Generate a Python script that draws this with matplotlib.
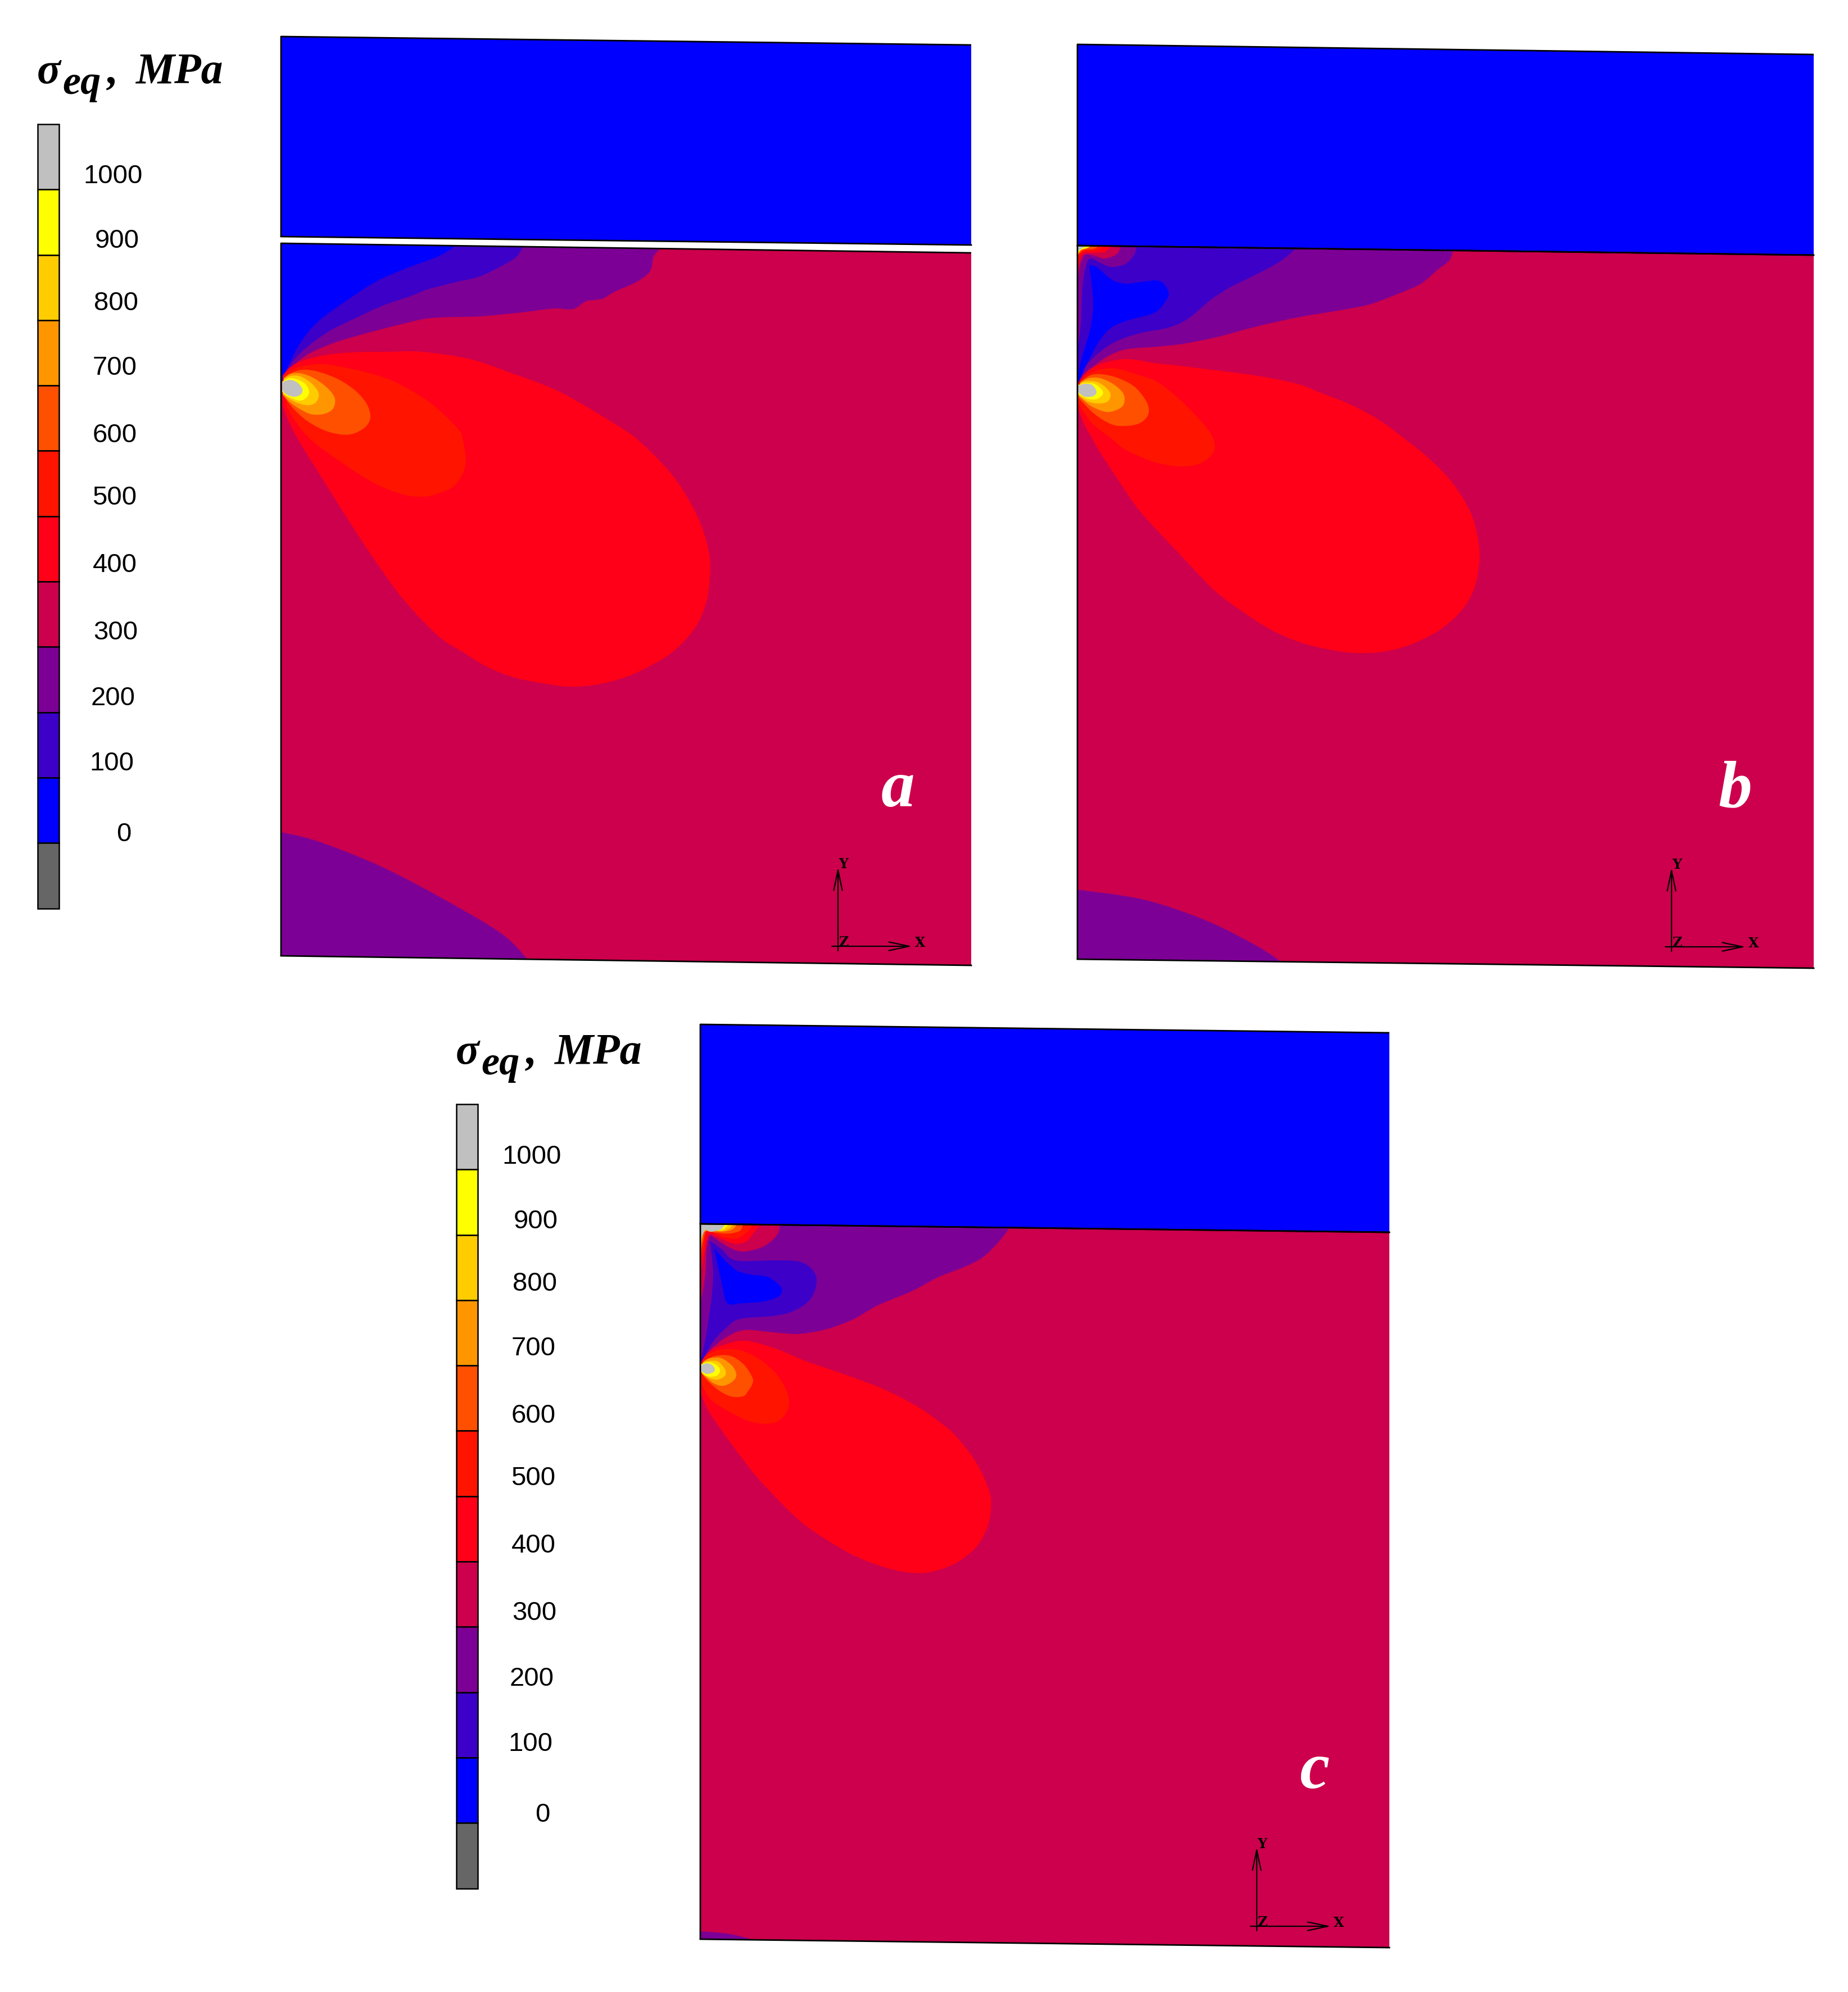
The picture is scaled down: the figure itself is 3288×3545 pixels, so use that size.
import matplotlib
matplotlib.use('Agg')
from matplotlib import pyplot as plt
from matplotlib.path import Path
from matplotlib.patches import PathPatch, Polygon

# legend classes, top to bottom
LEVEL_COLORS = ['#C0C0C0', '#FFFF00', '#FFCC00', '#FF9600', '#FF5000', '#FF1400',
                '#FF0018', '#CC004C', '#7D0096', '#3C00C8', '#0000FF', '#666666']
LEVEL_LABELS = ['1000', '900', '800', '700', '600', '500', '400', '300', '200', '100', '0']
LABEL_X_1 = [201, 208, 206, 204, 204, 204, 204, 206, 201, 199, 220]
LABEL_Y_1 = [314, 429, 540, 655, 775, 886, 1006, 1126, 1243, 1359, 1485]

A_BLOCK = [(500, 65), (1728, 80), (1728, 436), (500, 421)]
A_BODY = [(500, 433), (1728, 450), (1728, 1718), (500, 1701)]
A_PURPLE = [(1177, 440), (1163, 457), (1157, 482), (1134, 501), (1094, 519), (1071, 532), (1043, 536),
            (1020, 550), (985, 549), (928, 556), (853, 563), (767, 566), (710, 578), (652, 593),
            (595, 610), (549, 630), (520, 653), (503, 676)]
A_INDIGO = [(931, 438), (919, 457), (893, 473), (853, 492), (807, 503), (761, 515), (733, 526),
            (681, 544), (635, 565), (583, 591), (537, 626), (509, 660), (503, 676)]
A_BLUE = [(810, 438), (778, 457), (721, 478), (669, 501), (624, 530), (566, 572), (532, 614),
          (509, 660), (502, 679)]
A_LOBE_400 = [(503, 668), (515, 655), (535, 643), (578, 632), (628, 627), (695, 626), (750, 626), (836, 639),
              (910, 664), (997, 698), (1103, 760), (1143, 790), (1190, 838), (1220, 880), (1247, 933), (1262, 987),
              (1263, 1027), (1257, 1070), (1237, 1117), (1197, 1160), (1153, 1187), (1113, 1205), (1063, 1218),
              (1013, 1222), (960, 1215), (913, 1205), (867, 1187), (823, 1160), (780, 1132), (718, 1067), (662, 990),
              (624, 932), (578, 859), (535, 790), (515, 753), (503, 723)]
A_LOBE_500 = [(503, 670), (518, 658), (548, 650), (578, 648), (628, 657), (668, 667), (710, 683), (767, 718),
              (812, 760), (823, 780), (828, 827), (810, 863), (780, 878), (750, 884), (710, 878), (652, 852),
              (562, 790), (528, 753), (510, 723)]
A_LOBE_600 = [(505, 672), (522, 662), (542, 658), (568, 662), (602, 675), (632, 695), (652, 718), (659, 742),
              (650, 760), (628, 772), (605, 773), (575, 765), (545, 748), (522, 727), (503, 703)]
A_LOBE_700 = [(505, 673), (518, 665), (538, 665), (562, 675), (585, 693), (596, 710), (592, 728), (575, 737),
              (553, 737), (532, 727), (515, 715), (503, 702)]
A_LOBE_800 = [(505, 675), (517, 669), (535, 670), (555, 683), (567, 700), (563, 715), (550, 721), (532, 718),
              (515, 710), (503, 700)]
A_LOBE_900 = [(502, 679), (515, 673), (528, 675), (543, 683), (550, 697), (545, 708), (533, 713), (518, 708),
              (508, 703), (502, 697)]
A_LOBE_1000 = [(502, 680), (515, 676), (528, 680), (538, 692), (535, 702), (523, 706), (510, 702), (502, 695)]
A_FOOT = [(500, 1481), (565, 1497), (678, 1542), (791, 1601), (893, 1662), (941, 1710)]

B_BLOCK = [(1917, 79), (3227, 97), (3227, 454), (1917, 437)]
B_BODY = [(1917, 437), (3227, 454), (3227, 1723), (1917, 1707)]
B_PURPLE = [(2586, 442), (2579, 463), (2558, 480), (2528, 505), (2487, 523), (2436, 542), (2385, 552),
            (2308, 565), (2232, 582), (2165, 600), (2104, 612), (2058, 617), (2002, 622), (1966, 637),
            (1941, 657), (1918, 683)]
B_INDIGO = [(2308, 440), (2278, 465), (2232, 490), (2191, 510), (2155, 533), (2114, 567), (2079, 583),
            (2028, 593), (1987, 607), (1956, 627), (1931, 653), (1918, 682)]
B_BLUE = [(1938, 473), (1951, 475), (1977, 497), (2002, 505), (2028, 502), (2063, 500), (2079, 520), (2073, 537),
          (2053, 557), (2007, 570), (1977, 583), (1956, 607), (1936, 643), (1918, 680), (1923, 643),
          (1938, 593), (1945, 550), (1943, 510)]
B_HOT_200 = [(2022, 438), (2018, 453), (2002, 470), (1977, 475), (1956, 467), (1941, 460), (1933, 470),
             (1926, 510), (1923, 577), (1918, 617)]
B_HOT_300 = [(1994, 438), (1987, 452), (1966, 460), (1946, 455), (1931, 453), (1923, 467), (1918, 493)]
B_HOT_400 = [(1977, 438), (1966, 448), (1946, 450), (1931, 450), (1923, 457), (1918, 477)]
B_HOT_500 = [(1964, 438), (1951, 446), (1931, 447), (1921, 453), (1918, 467)]
B_HOT_600 = [(1954, 438), (1946, 443), (1928, 445), (1919, 453)]
B_HOT_900 = [(1941, 438), (1933, 442), (1923, 445), (1918, 452)]
B_HOT_1000 = [(1933, 438), (1925, 442), (1918, 447)]
B_LOBE_400 = [(1918, 682), (1933, 662), (1957, 648), (2003, 639), (2060, 647), (2090, 650), (2155, 658), (2232, 668),
              (2308, 683), (2352, 700), (2403, 720), (2453, 747), (2507, 787), (2547, 820), (2587, 863), (2617, 913),
              (2630, 960), (2632, 1000), (2623, 1047), (2600, 1087), (2560, 1122), (2510, 1147), (2460, 1160),
              (2410, 1162), (2360, 1155), (2310, 1142), (2260, 1120), (2210, 1088), (2160, 1050), (2095, 982),
              (2030, 912), (1992, 858), (1956, 803), (1943, 780), (1930, 757), (1918, 727)]
B_LOBE_500 = [(1920, 680), (1937, 665), (1960, 657), (1987, 656), (2027, 668), (2060, 680), (2100, 712), (2130, 742),
              (2152, 768), (2161, 790), (2157, 808), (2135, 825), (2099, 830), (2053, 822), (2002, 800), (1977, 780),
              (1943, 753), (1918, 717)]
B_LOBE_600 = [(1922, 680), (1940, 668), (1960, 666), (1987, 672), (2017, 687), (2037, 710), (2044, 728), (2040, 743),
              (2023, 755), (1990, 758), (1967, 750), (1943, 733), (1918, 707)]
B_LOBE_700 = [(1923, 680), (1937, 673), (1957, 673), (1980, 683), (1997, 698), (2001, 712), (1995, 725), (1975, 733),
              (1957, 730), (1937, 720), (1920, 705)]
B_LOBE_800 = [(1922, 682), (1933, 678), (1953, 680), (1970, 692), (1976, 703), (1970, 715), (1953, 718), (1937, 715),
              (1923, 707), (1918, 702)]
B_LOBE_900 = [(1918, 685), (1930, 682), (1947, 683), (1960, 693), (1962, 702), (1952, 710), (1937, 710), (1925, 705),
              (1918, 700)]
B_LOBE_1000 = [(1918, 686), (1930, 683), (1943, 685), (1951, 697), (1945, 705), (1930, 706), (1918, 698)]
B_FOOT = [(1915, 1583), (2035, 1601), (2148, 1639), (2239, 1685), (2284, 1715)]

C_BLOCK = [(1246, 1823), (2472, 1838), (2472, 2193), (1246, 2178)]
C_BODY = [(1246, 2178), (2472, 2193), (2472, 3466), (1246, 3451)]
C_PURPLE = [(1796, 2185), (1777, 2210), (1748, 2238), (1715, 2255), (1669, 2273), (1624, 2297), (1562, 2323),
            (1520, 2347), (1479, 2363), (1450, 2370), (1417, 2374), (1375, 2371), (1325, 2367), (1292, 2380),
            (1263, 2403), (1247, 2425)]
C_INDIGO = [(1263, 2208), (1284, 2223), (1309, 2243), (1375, 2243), (1421, 2245), (1446, 2260), (1453, 2283),
            (1441, 2313), (1412, 2333), (1375, 2342), (1317, 2347), (1292, 2363), (1267, 2390), (1247, 2425),
            (1255, 2383), (1265, 2317), (1269, 2267), (1265, 2223)]
C_BLUE = [(1271, 2222), (1284, 2237), (1309, 2260), (1334, 2268), (1367, 2273), (1390, 2292), (1385, 2307),
          (1359, 2316), (1321, 2319), (1294, 2319), (1284, 2283)]
C_HOT_300 = [(1388, 2179), (1383, 2197), (1367, 2213), (1346, 2223), (1317, 2227), (1292, 2217), (1271, 2203),
             (1263, 2200), (1257, 2223), (1255, 2267), (1247, 2317)]
C_HOT_400 = [(1354, 2179), (1342, 2193), (1327, 2210), (1305, 2213), (1284, 2205), (1267, 2197), (1259, 2200),
             (1253, 2233), (1247, 2263)]
C_HOT_500 = [(1340, 2179), (1330, 2192), (1313, 2203), (1292, 2203), (1267, 2193), (1257, 2193), (1251, 2223),
             (1247, 2243)]
C_HOT_600 = [(1322, 2179), (1317, 2190), (1300, 2195), (1284, 2195), (1261, 2192), (1255, 2192), (1249, 2217),
             (1247, 2230)]
C_HOT_700 = [(1311, 2179), (1303, 2188), (1284, 2192), (1255, 2191), (1249, 2207), (1247, 2223)]
C_HOT_800 = [(1305, 2179), (1296, 2187), (1282, 2191), (1255, 2189), (1247, 2207)]
C_HOT_900 = [(1296, 2179), (1288, 2187), (1272, 2190), (1255, 2188), (1247, 2205)]
C_HOT_1000 = [(1290, 2179), (1282, 2188), (1265, 2192), (1255, 2189), (1249, 2200), (1247, 2203)]
C_LOBE_400 = [(1248, 2423), (1260, 2407), (1283, 2395), (1325, 2386), (1380, 2400), (1433, 2422), (1500, 2445),
              (1567, 2470), (1627, 2500), (1667, 2527), (1700, 2555), (1737, 2603), (1760, 2653), (1763, 2683),
              (1757, 2717), (1737, 2753), (1700, 2782), (1653, 2798), (1613, 2798), (1567, 2787), (1517, 2767),
              (1467, 2738), (1427, 2710), (1393, 2678), (1357, 2640), (1337, 2617), (1300, 2568), (1280, 2540),
              (1260, 2510), (1247, 2480)]
C_LOBE_500 = [(1250, 2420), (1260, 2410), (1283, 2402), (1317, 2403), (1353, 2420), (1383, 2447), (1400, 2477),
              (1404, 2497), (1397, 2517), (1377, 2532), (1343, 2532), (1312, 2520), (1267, 2493), (1248, 2463)]
C_LOBE_600 = [(1252, 2422), (1273, 2413), (1300, 2413), (1323, 2428), (1338, 2450), (1339, 2462), (1330, 2477),
              (1322, 2485), (1300, 2485), (1277, 2473), (1257, 2455), (1247, 2442)]
C_LOBE_700 = [(1252, 2423), (1263, 2417), (1283, 2417), (1302, 2430), (1310, 2445), (1305, 2457), (1288, 2466),
              (1270, 2462), (1252, 2447), (1247, 2440)]
C_LOBE_800 = [(1250, 2425), (1260, 2422), (1277, 2423), (1290, 2437), (1290, 2448), (1278, 2455), (1263, 2453),
              (1250, 2445)]
C_LOBE_900 = [(1247, 2428), (1260, 2424), (1273, 2428), (1281, 2437), (1277, 2447), (1265, 2450), (1253, 2447),
              (1247, 2440)]
C_LOBE_1000 = [(1247, 2430), (1258, 2426), (1268, 2430), (1272, 2438), (1267, 2443), (1257, 2445), (1247, 2440)]
C_FOOT = [(1246, 3437), (1300, 3442), (1350, 3455)]

fig = plt.figure(figsize=(32.88, 35.45), dpi=100)
ax = fig.add_axes([0, 0, 1, 1])
ax.set_xlim(0, 3288)
ax.set_ylim(3545, 0)
ax.axis('off')

SERIF = 'Liberation Serif'
SANS = 'Liberation Sans'


def smooth_path(pts, tail=()):
    # curve through the read points, closed with straight lines over tail
    n = len(pts)
    verts = [pts[0]]
    codes = [Path.MOVETO]
    for i in range(n - 1):
        p0, p1, p2, p3 = pts[max(i - 1, 0)], pts[i], pts[i + 1], pts[min(i + 2, n - 1)]
        c1 = (p1[0] + (p2[0] - p0[0]) / 6, p1[1] + (p2[1] - p0[1]) / 6)
        c2 = (p2[0] - (p3[0] - p1[0]) / 6, p2[1] - (p3[1] - p1[1]) / 6)
        verts += [c1, c2, p2]
        codes += [Path.CURVE4] * 3
    for p in tail:
        verts.append(p)
        codes.append(Path.LINETO)
    verts.append(pts[0])
    codes.append(Path.CLOSEPOLY)
    return Path(verts, codes)


def band(pts, color, clip, tail=()):
    p = PathPatch(smooth_path(pts, tail), facecolor=color, edgecolor='none', lw=0)
    ax.add_patch(p)
    p.set_clip_path(clip)


def panel(block, body, bands):
    ax.add_patch(Polygon(block, closed=True, facecolor='#0000FF', edgecolor='none'))
    clip = Polygon(body, closed=True, facecolor='#CC004C', edgecolor='none')
    ax.add_patch(clip)
    for pts, color, tail in bands:
        band(pts, color, clip, tail)
    for shape in (block, body):
        ax.plot([shape[3][0], shape[0][0], shape[1][0]], [shape[3][1], shape[0][1], shape[1][1]],
                color='k', lw=2.0, solid_capstyle='butt')
        ax.plot([shape[3][0], shape[2][0]], [shape[3][1], shape[2][1]], color='k', lw=2.0)


def legend(x0, y0, dx, dy):
    seg = 116.3
    for i, col in enumerate(LEVEL_COLORS):
        ax.bar(x0, seg, width=38, bottom=y0 + i * seg, align='edge', color=col, edgecolor='k', linewidth=1.8)
    for lab, x, y in zip(LEVEL_LABELS, LABEL_X_1, LABEL_Y_1):
        ax.text(x + dx, y + dy, lab, ha='center', va='center', fontsize=34, family=SANS, color='k')
    kw = dict(family=SERIF, weight='bold', style='italic', color='k', va='baseline', ha='left')
    ax.text(66 + dx, 148 + dy, '\u03c3', fontsize=56, **kw)
    ax.text(111 + dx, 167 + dy, 'eq', fontsize=52, **kw)
    ax.text(191 + dx, 148 + dy, ',', fontsize=56, **kw)
    ax.text(241 + dx, 148 + dy, 'MPa', fontsize=56, **kw)


def triad(x, y):
    style = '->,head_length=2.6,head_width=0.55'
    ax.annotate('', xy=(x, y - 141), xytext=(x, y + 8),
                arrowprops=dict(arrowstyle=style, color='k', lw=1.6, shrinkA=0, shrinkB=0))
    ax.annotate('', xy=(x + 132, y), xytext=(x - 11, y),
                arrowprops=dict(arrowstyle=style, color='k', lw=1.6, shrinkA=0, shrinkB=0))
    kw = dict(family='DejaVu Serif', weight='bold', fontsize=17, color='k', ha='center', va='center')
    ax.text(x + 146, y - 6, 'X', **kw)
    ax.text(x + 10, y - 146, 'Y', **kw)
    ax.text(x + 10, y - 7, 'Z', **kw)


legend(67, 221, 0, 0)
legend(812, 1965, 745, 1745)

panel(A_BLOCK, A_BODY, [
    (A_PURPLE, LEVEL_COLORS[8], [(495, 676), (495, 430)]),
    (A_INDIGO, LEVEL_COLORS[9], [(495, 676), (495, 430)]),
    (A_BLUE, LEVEL_COLORS[10], [(495, 679), (495, 430)]),
    (A_FOOT, LEVEL_COLORS[8], [(495, 1710), (495, 1481)]),
    (A_LOBE_400, LEVEL_COLORS[6], ()), (A_LOBE_500, LEVEL_COLORS[5], ()), (A_LOBE_600, LEVEL_COLORS[4], ()),
    (A_LOBE_700, LEVEL_COLORS[3], ()), (A_LOBE_800, LEVEL_COLORS[2], ()), (A_LOBE_900, LEVEL_COLORS[1], ()),
    (A_LOBE_1000, LEVEL_COLORS[0], ()),
])
panel(B_BLOCK, B_BODY, [
    (B_PURPLE, LEVEL_COLORS[8], [(1910, 683), (1910, 430)]),
    (B_INDIGO, LEVEL_COLORS[9], [(1910, 682), (1910, 430)]),
    (B_BLUE, LEVEL_COLORS[10], ()),
    (B_HOT_200, LEVEL_COLORS[8], [(1910, 617), (1910, 430)]),
    (B_HOT_300, LEVEL_COLORS[7], [(1910, 493), (1910, 430)]),
    (B_HOT_400, LEVEL_COLORS[6], [(1910, 477), (1910, 430)]),
    (B_HOT_500, LEVEL_COLORS[5], [(1910, 467), (1910, 430)]),
    (B_HOT_600, LEVEL_COLORS[4], [(1910, 453), (1910, 430)]),
    (B_HOT_900, LEVEL_COLORS[1], [(1910, 452), (1910, 430)]),
    (B_HOT_1000, LEVEL_COLORS[0], [(1910, 447), (1910, 430)]),
    (B_FOOT, LEVEL_COLORS[8], [(1910, 1715), (1910, 1583)]),
    (B_LOBE_400, LEVEL_COLORS[6], ()), (B_LOBE_500, LEVEL_COLORS[5], ()), (B_LOBE_600, LEVEL_COLORS[4], ()),
    (B_LOBE_700, LEVEL_COLORS[3], ()), (B_LOBE_800, LEVEL_COLORS[2], ()), (B_LOBE_900, LEVEL_COLORS[1], ()),
    (B_LOBE_1000, LEVEL_COLORS[0], ()),
])
panel(C_BLOCK, C_BODY, [
    (C_PURPLE, LEVEL_COLORS[8], [(1240, 2425), (1240, 2170)]),
    (C_HOT_300, LEVEL_COLORS[7], [(1240, 2317), (1240, 2170)]),
    (C_INDIGO, LEVEL_COLORS[9], ()),
    (C_BLUE, LEVEL_COLORS[10], ()),
    (C_HOT_400, LEVEL_COLORS[6], [(1240, 2263), (1240, 2170)]),
    (C_HOT_500, LEVEL_COLORS[5], [(1240, 2243), (1240, 2170)]),
    (C_HOT_600, LEVEL_COLORS[4], [(1240, 2230), (1240, 2170)]),
    (C_HOT_700, LEVEL_COLORS[3], [(1240, 2223), (1240, 2170)]),
    (C_HOT_800, LEVEL_COLORS[2], [(1240, 2207), (1240, 2170)]),
    (C_HOT_900, LEVEL_COLORS[1], [(1240, 2205), (1240, 2170)]),
    (C_HOT_1000, LEVEL_COLORS[0], [(1240, 2203), (1240, 2170)]),
    (C_FOOT, LEVEL_COLORS[8], [(1240, 3455), (1240, 3437)]),
    (C_LOBE_400, LEVEL_COLORS[6], ()), (C_LOBE_500, LEVEL_COLORS[5], ()), (C_LOBE_600, LEVEL_COLORS[4], ()),
    (C_LOBE_700, LEVEL_COLORS[3], ()), (C_LOBE_800, LEVEL_COLORS[2], ()), (C_LOBE_900, LEVEL_COLORS[1], ()),
    (C_LOBE_1000, LEVEL_COLORS[0], ()),
])

triad(1491, 1684)
triad(2974, 1685)
triad(2236, 3428)

kw = dict(family=SERIF, weight='bold', style='italic', color='white', ha='center', va='baseline', fontsize=86)
ax.text(1597, 1435, 'a', **kw)
ax.text(3087, 1435, 'b', **kw)
ax.text(2339, 3182, 'c', **kw)

fig.savefig('out.png', dpi=100)
